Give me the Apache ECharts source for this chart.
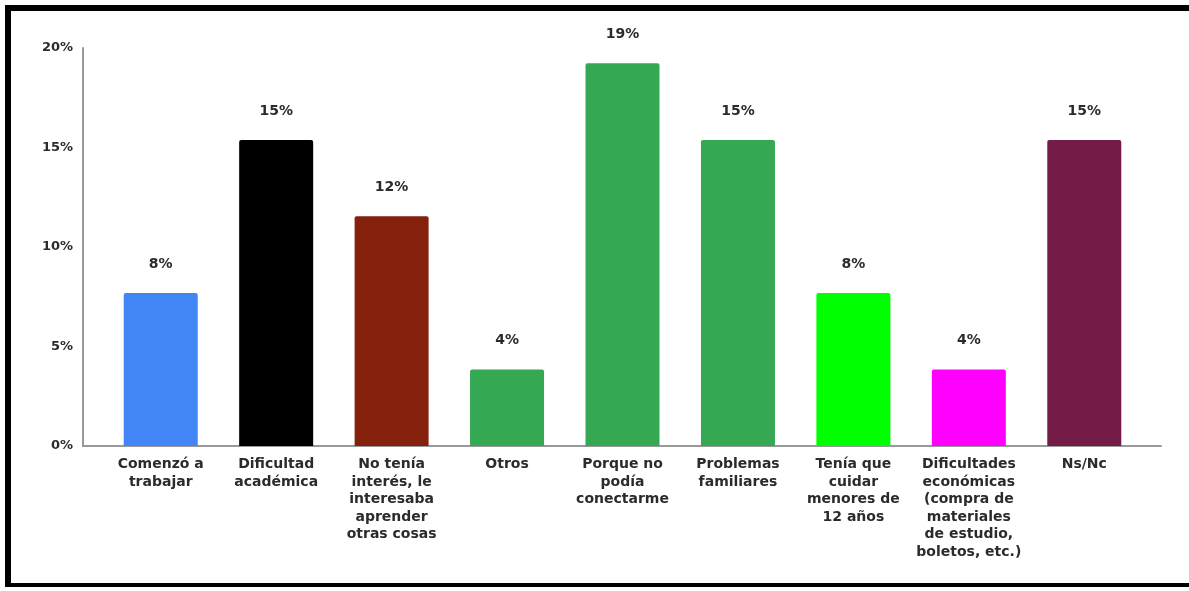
<!DOCTYPE html>
<html>
<head>
<meta charset="utf-8">
<script src="https://cdn.jsdelivr.net/npm/echarts@6/dist/echarts.min.js"></script>
<style>
html,body{margin:0;padding:0;background:#fff;}
#frame{position:absolute;left:5px;top:5px;width:1184px;height:582px;box-sizing:border-box;border-top:6px solid #000;border-left:6px solid #000;border-bottom:4px solid #000;}
#chart{position:absolute;left:0;top:0;width:1189px;height:591px;}
</style>
</head>
<body>
<div id="frame"></div>
<div id="chart"></div>
<script>
const categories = [
  'Comenzó a\ntrabajar',
  'Dificultad\nacadémica',
  'No tenía\ninterés, le\ninteresaba\naprender\notras cosas',
  'Otros',
  'Porque no\npodía\nconectarme',
  'Problemas\nfamiliares',
  'Tenía que\ncuidar\nmenores de\n12 años',
  'Dificultades\neconómicas\n(compra de\nmateriales\nde estudio,\nboletos, etc.)',
  'Ns/Nc'
];
const values = [7.69, 15.38, 11.54, 3.85, 19.23, 15.38, 7.69, 3.85, 15.38];
const barColors = ['#4285f4', '#000000', '#85200c', '#34a853', '#34a853', '#34a853', '#00ff00', '#ff00ff', '#741b47'];
const yTicks = [0, 5, 10, 15, 20];

const FONT = '"DejaVu Sans", sans-serif';
const TXT = '#2b2b2b';
const chart = echarts.init(document.getElementById('chart'));
chart.setOption({
  animation: false,
  grid: [
    {left: 103, right: 47, top: 48, bottom: 145},
    {left: 83, right: 28, top: 48, bottom: 145}
  ],
  xAxis: [
    {
      type: 'category', gridIndex: 0, data: categories,
      axisLine: {show: false},
      axisTick: {show: false},
      axisLabel: {interval: 0, color: TXT, fontFamily: FONT, fontWeight: 'bold', fontSize: 14, lineHeight: 17.5, margin: 10}
    },
    {
      type: 'value', gridIndex: 1, min: 0, max: 1,
      axisLine: {show: true, lineStyle: {color: '#999', width: 2}},
      axisTick: {show: false}, axisLabel: {show: false}, splitLine: {show: false}
    }
  ],
  yAxis: [
    {
      type: 'value', gridIndex: 0, min: yTicks[0], max: yTicks[yTicks.length - 1], interval: 5, offset: 20,
      axisLine: {show: true, lineStyle: {color: '#999', width: 2}},
      axisTick: {show: false}, splitLine: {show: false},
      axisLabel: {formatter: '{value}%', color: TXT, fontFamily: FONT, fontWeight: 'bold', fontSize: 13, margin: 10}
    },
    {type: 'value', gridIndex: 1, min: 0, max: 1, show: false}
  ],
  series: [{
    type: 'bar', xAxisIndex: 0, yAxisIndex: 0,
    data: values.map((v, i) => ({value: v, itemStyle: {color: barColors[i]}})),
    barWidth: 74,
    itemStyle: {borderRadius: [2, 2, 0, 0]},
    label: {show: true, position: 'top', distance: 22, formatter: p => Math.round(p.value) + '%', color: TXT, fontFamily: FONT, fontWeight: 'bold', fontSize: 14}
  }]
});
</script>
</body>
</html>
